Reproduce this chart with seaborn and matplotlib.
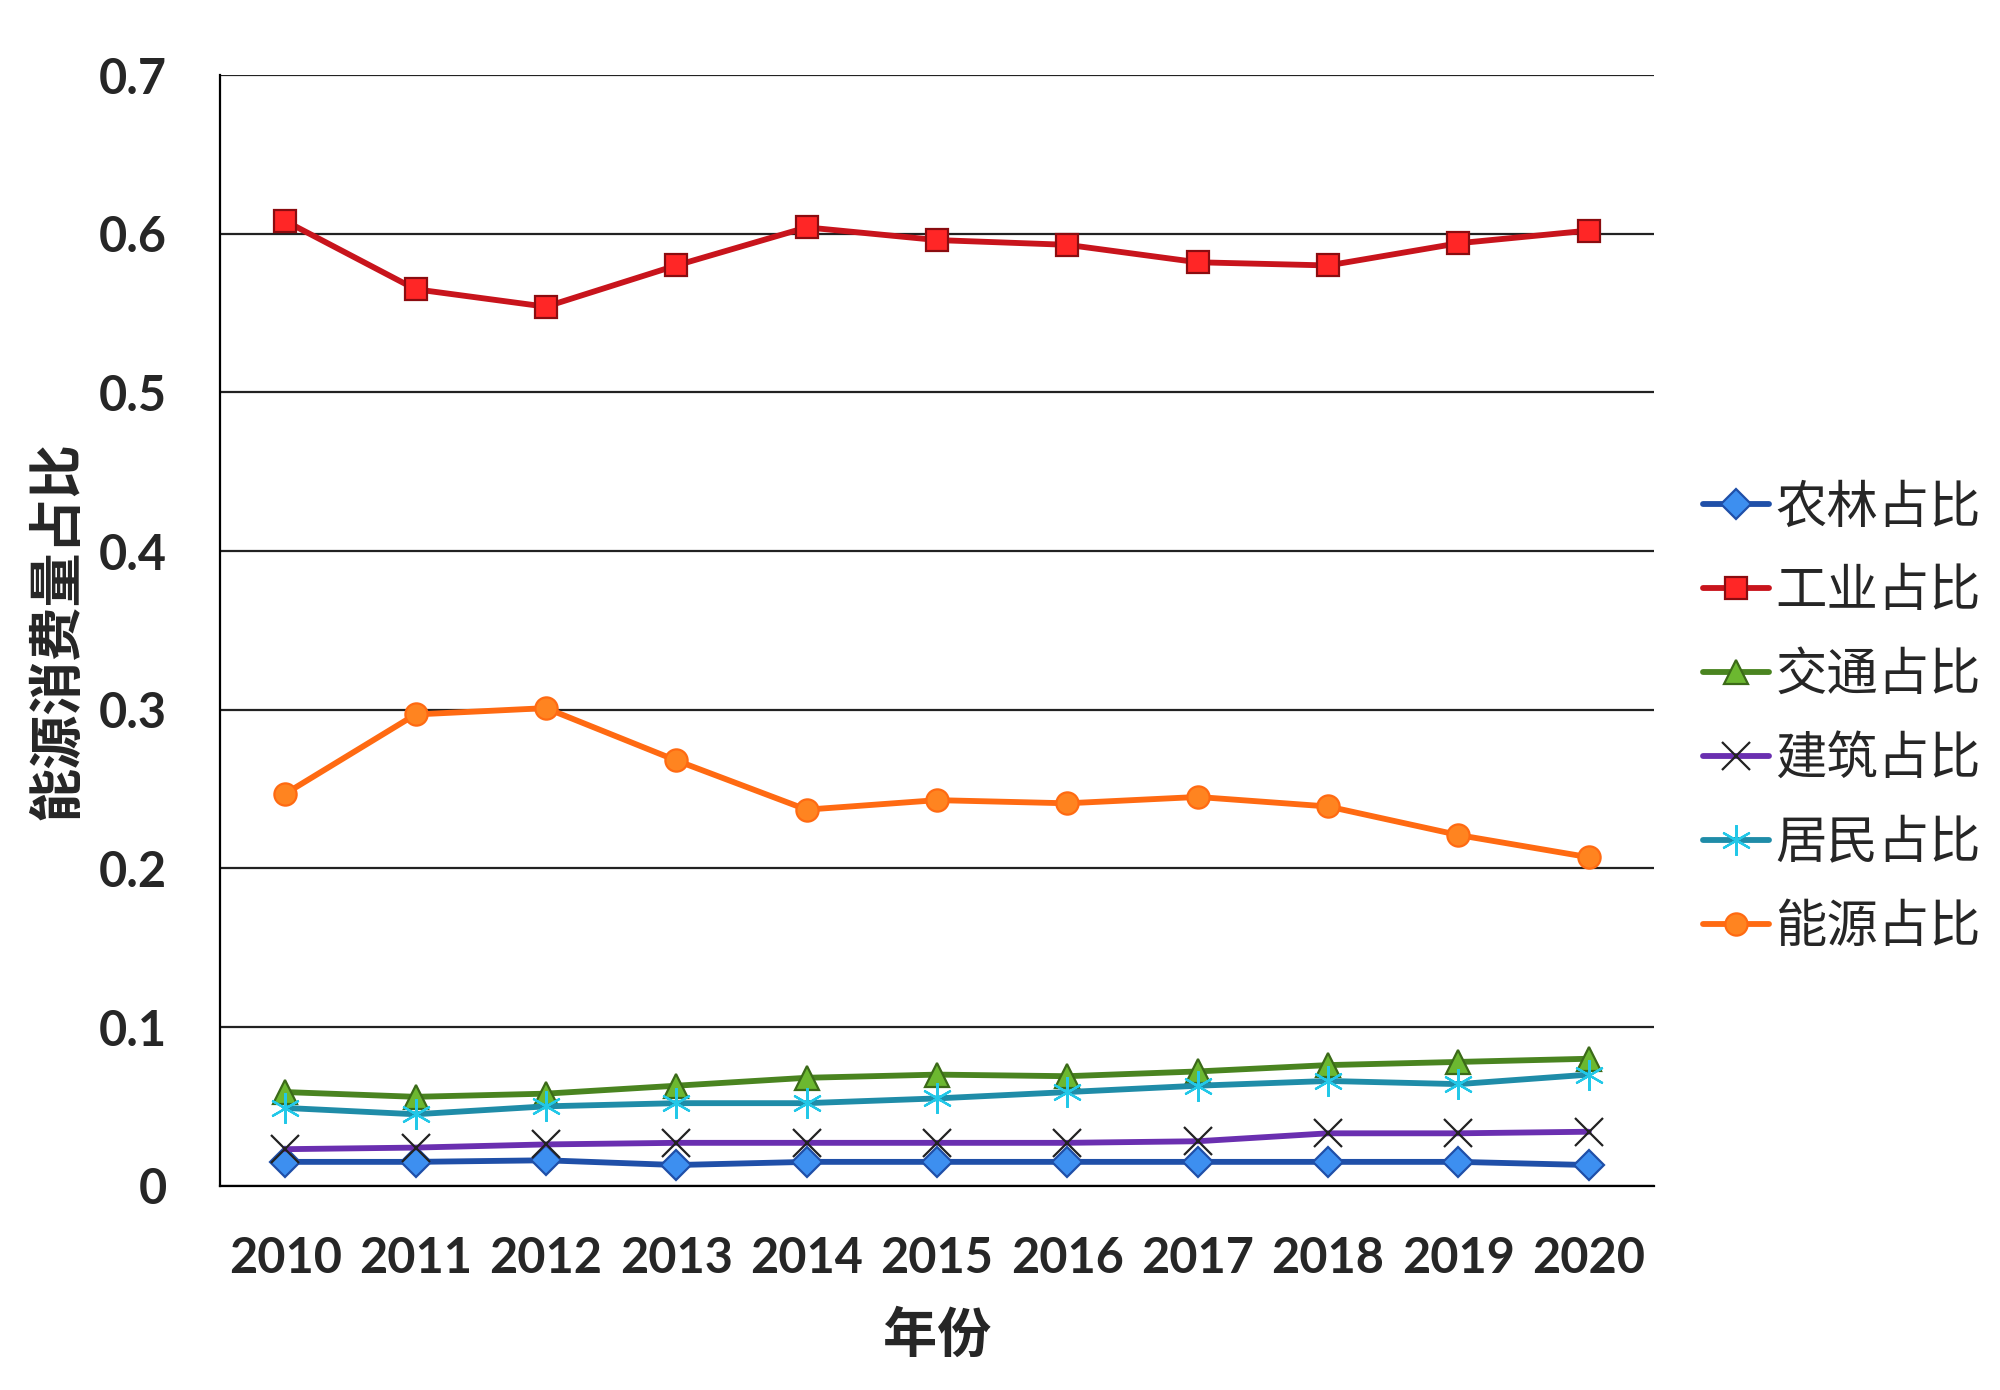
import matplotlib
matplotlib.use('Agg')
import matplotlib.pyplot as plt
import pandas as pd
import seaborn as sns

# 数据
years = ['2010', '2011', '2012', '2013', '2014', '2015', '2016', '2017', '2018', '2019', '2020']
nonglin = [0.015, 0.015, 0.016, 0.013, 0.015, 0.015, 0.015, 0.015, 0.015, 0.015, 0.013]
gongye = [0.608, 0.565, 0.554, 0.580, 0.604, 0.596, 0.593, 0.582, 0.580, 0.594, 0.602]
jiaotong = [0.059, 0.056, 0.058, 0.063, 0.068, 0.070, 0.069, 0.072, 0.076, 0.078, 0.080]
jianzhu = [0.023, 0.024, 0.026, 0.027, 0.027, 0.027, 0.027, 0.028, 0.033, 0.033, 0.034]
jumin = [0.049, 0.045, 0.050, 0.052, 0.052, 0.055, 0.059, 0.063, 0.066, 0.064, 0.070]
nengyuan = [0.247, 0.297, 0.301, 0.268, 0.237, 0.243, 0.241, 0.245, 0.239, 0.221, 0.207]

series_names = ['农林占比', '工业占比', '交通占比', '建筑占比', '居民占比', '能源占比']
series_values = [nonglin, gongye, jiaotong, jianzhu, jumin, nengyuan]

# 样式 (线色, 标记, 标记填充色, 标记边色, 标记大小)
styles = [
    ('#1f4fa8', 'D', '#3d8ff0', '#1f4fa8', 15),
    ('#c8141c', 's', '#ff2626', '#8a0c10', 16),
    ('#4a8420', '^', '#6cb830', '#3b6a18', 17),
    ('#6a2fb0', 'x', '#222222', '#222222', 20),
    ('#1f8ca8', (6, 2, 0), '#22c8e8', '#22c8e8', 22),
    ('#ff6a12', 'o', '#ff8420', '#ff6a12', 16),
]

df = pd.DataFrame({'年份': years})
for name, vals in zip(series_names, series_values):
    df[name] = vals
df['x'] = range(len(years))

sns.set_style('white')
plt.rcParams['font.family'] = ['Lato', 'Noto Sans CJK SC', 'DejaVu Sans']

fig, ax = plt.subplots(figsize=(20, 13.9), dpi=100)
fig.subplots_adjust(left=0.11, right=0.827, top=0.946, bottom=0.147)

for name, (lc, mk, mfc, mec, ms) in zip(series_names, styles):
    sns.lineplot(data=df, x='x', y=name, ax=ax, color=lc, linewidth=4.2,
                 marker=mk, markersize=ms, markerfacecolor=mfc,
                 markeredgecolor=mec, markeredgewidth=1.6, label=name)

ax.set_ylim(0, 0.7)
ax.set_yticks([0, 0.1, 0.2, 0.3, 0.4, 0.5, 0.6, 0.7])
ax.set_yticklabels(['0', '0.1', '0.2', '0.3', '0.4', '0.5', '0.6', '0.7'])
ax.set_xlim(-0.5, len(years) - 0.5)
ax.set_xticks(range(len(years)))
ax.set_xticklabels(years)
ax.set_xticks([i - 0.5 for i in range(len(years) + 1)], minor=True)
ax.tick_params(axis='x', which='major', length=0, pad=36, labelsize=35)
ax.tick_params(axis='x', which='minor', length=12, width=1.6, color='black', direction='out')
ax.tick_params(axis='y', length=14, width=1.6, color='black', direction='out', pad=24, labelsize=35)
for lab in ax.get_xticklabels() + ax.get_yticklabels():
    lab.set_fontweight('bold')

ax.grid(axis='y', color='#222222', linewidth=1.6)
ax.set_axisbelow(True)
for s in ['top', 'right']:
    ax.spines[s].set_visible(False)
for s in ['left', 'bottom']:
    ax.spines[s].set_color('black')
    ax.spines[s].set_linewidth(1.6)

ax.set_xlabel('年份', fontsize=39, fontweight='bold', labelpad=20,
              family=['Noto Sans CJK SC'])
ax.set_ylabel('能源消费量占比', fontsize=39, fontweight='bold', labelpad=10,
              family=['Noto Sans CJK SC'])

ax.legend(loc='center left', bbox_to_anchor=(0.841, 0.484), bbox_transform=fig.transFigure,
          frameon=False, prop={'family': 'Noto Sans CJK SC', 'size': 37},
          handlelength=1.3, handletextpad=0.12, labelspacing=0.59, borderaxespad=0)

fig.savefig('out.png', dpi=100)
